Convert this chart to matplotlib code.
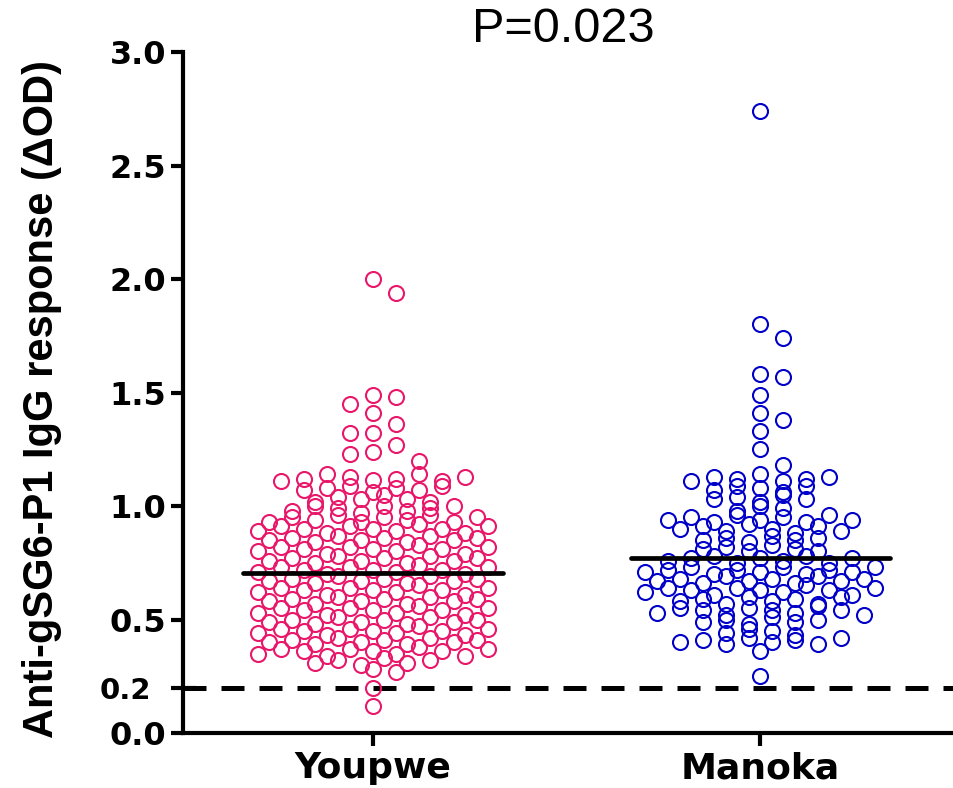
import numpy as np
import matplotlib
matplotlib.use("Agg")
import matplotlib.pyplot as plt

plt.rcParams['font.family'] = ['Liberation Sans', 'DejaVu Sans']

groups = ["Youpwe", "Manoka"]
colors = ["#E8176A", "#0000C8"]

# values, roughly row by row (top to bottom)
youpwe = [
    2.00, 1.94, 1.49, 1.48, 1.45, 1.41, 1.36, 1.32, 1.32, 1.27, 1.24, 1.23, 1.20,
    1.11, 1.12, 1.14, 1.13, 1.115, 1.12, 1.14, 1.11, 1.13,
    1.07, 1.08, 1.09, 1.06, 1.08, 1.07, 1.09,
    1.02, 1.04, 1.03, 1.05, 1.03, 1.02,
    0.98, 1.00, 0.99, 0.97, 1.00, 0.98, 0.99, 1.00,
    0.93, 0.95, 0.94, 0.96, 0.93, 0.95, 0.94, 0.96, 0.93, 0.95,
    0.89, 0.91, 0.90, 0.88, 0.91, 0.90, 0.89, 0.92, 0.90, 0.88, 0.91,
    0.85, 0.86, 0.84, 0.87, 0.85, 0.86, 0.84, 0.87, 0.85, 0.86,
    0.80, 0.82, 0.81, 0.79, 0.82, 0.81, 0.80, 0.83, 0.81, 0.79, 0.82,
    0.76, 0.77, 0.75, 0.78, 0.76, 0.77, 0.75, 0.78, 0.76, 0.77,
    0.71, 0.73, 0.72, 0.70, 0.73, 0.72, 0.71, 0.74, 0.72, 0.70, 0.73,
    0.67, 0.68, 0.66, 0.69, 0.67, 0.68, 0.66, 0.69, 0.67, 0.68,
    0.62, 0.64, 0.63, 0.61, 0.64, 0.63, 0.62, 0.65, 0.63, 0.61, 0.64,
    0.58, 0.59, 0.57, 0.60, 0.58, 0.59, 0.57, 0.60, 0.58, 0.59,
    0.53, 0.55, 0.54, 0.52, 0.55, 0.54, 0.53, 0.56, 0.54, 0.52, 0.55,
    0.49, 0.50, 0.48, 0.51, 0.49, 0.50, 0.48, 0.51, 0.49, 0.50,
    0.44, 0.46, 0.45, 0.43, 0.46, 0.45, 0.44, 0.47, 0.45, 0.43, 0.46,
    0.40, 0.41, 0.39, 0.42, 0.40, 0.41, 0.39, 0.42, 0.40, 0.41,
    0.35, 0.37, 0.36, 0.34, 0.37, 0.36, 0.35, 0.38, 0.36, 0.34, 0.37,
    0.31, 0.32, 0.30, 0.33, 0.31, 0.32,
    0.27, 0.28,
    0.20,
    0.12,
]

manoka = [
    2.74, 1.80, 1.74, 1.58, 1.57, 1.49, 1.41, 1.38, 1.33, 1.25, 1.18,
    1.11, 1.13, 1.12, 1.14, 1.11, 1.12, 1.13,
    1.07, 1.09, 1.08, 1.06, 1.09,
    1.03, 1.04, 1.02, 1.05, 1.03,
    0.99, 1.00, 0.98,
    0.94, 0.95, 0.93, 0.96, 0.94, 0.95, 0.93, 0.96, 0.94,
    0.90, 0.91, 0.89, 0.92, 0.90, 0.88, 0.91, 0.89,
    0.85, 0.86, 0.84, 0.87, 0.85, 0.86,
    0.81, 0.82, 0.80, 0.83, 0.81, 0.80,
    0.76, 0.77, 0.78, 0.75, 0.77, 0.76, 0.78, 0.75, 0.77,
    0.71, 0.72, 0.73, 0.70, 0.72, 0.71, 0.73, 0.70, 0.72, 0.71, 0.73,
    0.67, 0.68, 0.66, 0.69, 0.67, 0.68, 0.66, 0.69, 0.67, 0.68,
    0.62, 0.64, 0.63, 0.61, 0.64, 0.63, 0.62, 0.65, 0.63, 0.61, 0.64,
    0.58, 0.59, 0.57, 0.60, 0.58, 0.59, 0.57, 0.60,
    0.53, 0.55, 0.54, 0.52, 0.55, 0.54, 0.53, 0.56, 0.54, 0.52,
    0.49, 0.50, 0.48, 0.51, 0.49, 0.50,
    0.44, 0.46, 0.45, 0.43,
    0.40, 0.41, 0.39, 0.42, 0.40, 0.41, 0.39, 0.42,
    0.36,
    0.25,
]

means = [0.705, 0.77]
cutoff = 0.2
p_text = "P=0.023"
yticks = [0.0, 0.5, 1.0, 1.5, 2.0, 2.5, 3.0]
ytick_labels = ["0.0", "0.5", "1.0", "1.5", "2.0", "2.5", "3.0"]

XLIM = (-0.49, 1.5)
YLIM = (0, 3.0)
AX_RECT = [0.192, 0.0698, 0.808, 0.864]
FIG_W, FIG_H = 954, 788


def swarm_offsets(vals, bin_h=0.045, step=0.0594, min_px=17):
    # GraphPad-like layout: dense y bins are spread into a row,
    # sparse points are nudged sideways off each other
    vals = np.asarray(vals, dtype=float)
    px_x = AX_RECT[2] * FIG_W / (XLIM[1] - XLIM[0])
    px_y = AX_RECT[3] * FIG_H / (YLIM[1] - YLIM[0])
    bins = np.round(vals / bin_h).astype(int)
    offs = np.zeros(len(vals))
    sparse = []
    for b in sorted(np.unique(bins), reverse=True):
        idx = np.where(bins == b)[0]
        n = len(idx)
        if n > 3:
            offs[idx] = (np.arange(n) - (n - 1) / 2) * step
            continue
        for j in idx[np.argsort(-vals[idx])]:
            for k in [0, 1, -1, 2, -2, 3, -3]:
                ok = True
                for (px, py) in sparse:
                    d = np.hypot((k * step - px) * px_x, (vals[j] - py) * px_y)
                    if d < min_px:
                        ok = False
                        break
                if ok:
                    break
            offs[j] = k * step
            sparse.append((offs[j], vals[j]))
    return offs


fig = plt.figure(figsize=(FIG_W / 100, FIG_H / 100), dpi=100)
ax = fig.add_axes(AX_RECT)

for i, vals in enumerate([youpwe, manoka]):
    x = i + swarm_offsets(vals)
    ax.plot(x, vals, 'o', mfc='none', mec=colors[i], ms=10.8, mew=1.5,
            zorder=3, clip_on=False)
    ax.plot([i - 0.335, i + 0.335], [means[i], means[i]], color='black',
            lw=3.4, solid_capstyle='round', zorder=4)

ax.axhline(cutoff, color='black', lw=3.6, dashes=(4.6, 3.0), zorder=2)

ax.set_xlim(*XLIM)
ax.set_ylim(*YLIM)
ax.set_xticks([0, 1])
ax.set_xticklabels(groups, fontsize=26, fontweight='bold',
                   family='DejaVu Sans')
ax.set_yticks(yticks)
ax.set_yticklabels(ytick_labels, fontsize=23, fontweight='bold',
                   family='DejaVu Sans')
# the cut-off gets its own crossing tick and label
ax.set_yticks([cutoff], minor=True)
ax.set_yticklabels(["0.2"], minor=True, fontsize=21, fontweight='bold',
                   family='DejaVu Sans')

for s in ['top', 'right']:
    ax.spines[s].set_visible(False)
for s in ['left', 'bottom']:
    ax.spines[s].set_linewidth(3)
ax.tick_params(axis='both', which='major', width=3, length=9,
               direction='out')
ax.tick_params(axis='y', which='major', pad=3)
ax.tick_params(axis='y', which='minor', width=3, length=18,
               direction='inout', pad=14)
ax.tick_params(axis='x', pad=4)

ax.set_ylabel("Anti-gSG6-P1 IgG response (\u0394OD)", fontsize=30,
              fontweight='bold')
ax.yaxis.set_label_coords(-0.157, 0.49)

fig.text(563 / 954, 1 - 30 / 788, p_text, fontsize=35, ha='center',
         va='center')

fig.savefig("out.png", dpi=100)
